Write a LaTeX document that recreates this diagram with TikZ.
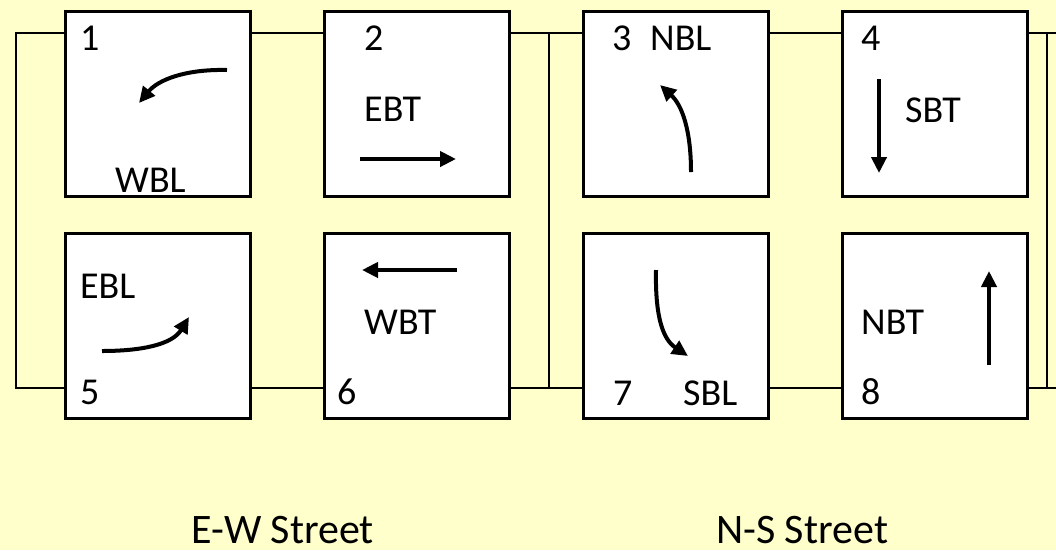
\documentclass[tikz,border=0pt]{standalone}
\usepackage{fontspec}
\setmainfont{Carlito}
\usetikzlibrary{arrows.meta}
\definecolor{bg}{RGB}{255,255,204}
\begin{document}
\begin{tikzpicture}[x=1pt,y=-1pt,
  box/.style={draw=black,line width=3pt,fill=white,minimum width=185pt,minimum height=185pt,inner sep=0pt,outer sep=0pt},
  wire/.style={line width=2.7pt},
  mv/.style={line width=4pt,-{Triangle[length=16pt,width=15pt]}},
  lbl/.style={anchor=base west,inner sep=0pt,font=\fontsize{38}{40}\selectfont},
  street/.style={anchor=base west,inner sep=0pt,font=\fontsize{42}{44}\selectfont}]
\fill[bg] (0,0) rectangle (1056,550);
\useasboundingbox (0,0) rectangle (1056,550);
% wire coordinates
\coordinate (tl) at (16,33);
\coordinate (bl) at (16,388);
\coordinate (mt) at (549,33);
\coordinate (mb) at (549,388);
\coordinate (rt) at (1047,33);
\coordinate (rb) at (1047,388);
\coordinate (et) at (1056,33);
\coordinate (eb) at (1056,388);
\draw[wire] (et) -- (tl) -- (bl) -- (eb);
\draw[wire] (mt) -- (mb);
\draw[wire] (rt) -- (rb);
% boxes
\node[box] (b1) at (157.5,103.5) {};
\node[box] (b2) at (416.5,103.5) {};
\node[box] (b3) at (675.5,103.5) {};
\node[box] (b4) at (934.5,103.5) {};
\node[box] (b5) at (157.5,325.5) {};
\node[box] (b6) at (416.5,325.5) {};
\node[box] (b7) at (675.5,325.5) {};
\node[box] (b8) at (934.5,325.5) {};
% labels
\node[lbl] (n1) at (80,50) {1};
\node[lbl] (t1) at (115,192) {WBL};
\node[lbl] (n2) at (364,50) {2};
\node[lbl] (t2) at (364,121) {EBT};
\node[lbl] (n3) at (612,50) {3};
\node[lbl] (t3) at (650,50) {NBL};
\node[lbl] (n4) at (861,50) {4};
\node[lbl] (t4) at (905,122) {SBT};
\node[lbl] (t5) at (80,298) {EBL};
\node[lbl] (n5) at (80,404) {5};
\node[lbl] (t6) at (364,334) {WBT};
\node[lbl] (n6) at (337,404) {6};
\node[lbl] (n7) at (613,405) {7};
\node[lbl] (t7) at (683,405) {SBL};
\node[lbl] (t8) at (861,334) {NBT};
\node[lbl] (n8) at (861,404) {8};
% movement arrows
\draw[mv] (227,70) .. controls (185,69) and (158,80) .. (139,103);
\draw[mv] (360,159) -- (456,159);
\draw[mv] (691,172) .. controls (691,130) and (682,105) .. (660,85);
\draw[mv] (879,79) -- (879,173);
\draw[mv] (102,351) .. controls (140,351) and (172,345) .. (189,317);
\draw[mv] (457,270) -- (362,270);
\draw[mv] (656,270) .. controls (655,320) and (664,340) .. (688,356);
\draw[mv] (989,365) -- (989,271);
% street names
\node[street] (ew) at (191,543) {E-W Street};
\node[street] (ns) at (716,543) {N-S Street};
\end{tikzpicture}
\end{document}
